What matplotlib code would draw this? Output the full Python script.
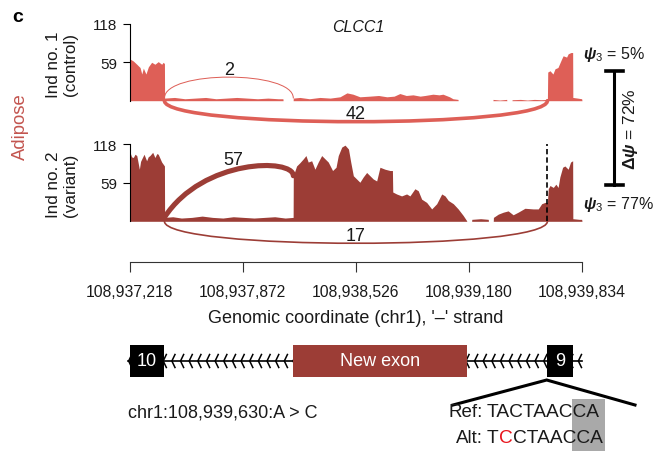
import numpy as np
import matplotlib
matplotlib.use("Agg")
import matplotlib.pyplot as plt
from matplotlib.path import Path
from matplotlib.patches import PathPatch, Rectangle
from matplotlib.lines import Line2D
from matplotlib.ticker import FuncFormatter

plt.rcParams['font.family'] = ['Liberation Sans', 'DejaVu Sans']
plt.rcParams['mathtext.fontset'] = 'custom'
plt.rcParams['mathtext.rm'] = 'Liberation Sans'
plt.rcParams['mathtext.it'] = 'Liberation Sans:italic'
plt.rcParams['mathtext.bf'] = 'Liberation Sans:bold'
plt.rcParams['mathtext.bfit'] = 'Liberation Sans:bold:italic'

# ---- data -----------------------------------------------------------------
gene = 'CLCC1'
tissue = 'Adipose'
region_start = 108937218
region_end = 108939834
x_ticks = [108937218, 108937872, 108938526, 108939180, 108939834]
y_ticks = [59, 118]

# read depth, positions in bp from region_start
ctrl_pos = [0, 3, 22, 42, 61, 71, 80, 95, 109, 128, 147, 166, 186, 195, 202,
            203, 260, 320, 380, 440, 500, 560, 620, 680, 740, 800, 860, 887, 888,
            946, 947, 985, 1040, 1101, 1160, 1217, 1257, 1292, 1332, 1390, 1440,
            1488, 1530, 1563, 1600, 1639, 1680, 1708, 1754, 1790, 1812, 1850, 1870,
            1899, 1900, 2101, 2102, 2140, 2180, 2182, 2211, 2212, 2260, 2300, 2340,
            2380, 2416, 2418, 2431, 2448, 2460, 2477, 2498, 2507, 2527, 2536, 2552,
            2562, 2563, 2590, 2614, 2616]
ctrl_depth = [62, 64, 61, 56, 51, 41, 50, 41, 52, 59, 56, 60, 56, 59, 57,
              4, 5, 3, 4, 5, 3, 4, 5, 4, 3, 4, 3, 3, 0,
              0, 4, 5, 3, 5, 4, 6, 12, 10, 6, 7, 8,
              6, 7, 11, 8, 9, 7, 8, 10, 9, 10, 6, 3,
              2, 0, 0, 2, 1, 2, 0, 0, 1.5, 2, 1, 2,
              1.5, 2, 44, 46, 41, 49, 51, 64, 69, 67, 72, 74,
              74, 5, 4, 3, 0]

var_pos = [0, 3, 12, 22, 32, 42, 57, 64, 71, 84, 99, 108, 118, 134, 147, 158, 166,
           186, 202, 203, 250, 300, 360, 420, 480, 540, 600, 660, 720, 780, 840,
           900, 946, 947, 966, 985, 1005, 1020, 1033, 1053, 1072, 1091, 1111, 1130,
           1149, 1174, 1194, 1207, 1227, 1246, 1266, 1279, 1294, 1313, 1332, 1351,
           1371, 1390, 1409, 1429, 1448, 1477, 1506, 1520, 1522, 1544, 1573, 1602,
           1621, 1650, 1669, 1689, 1718, 1747, 1776, 1805, 1824, 1843, 1872, 1900,
           1929, 1949, 1950, 1978, 1979, 2030, 2074, 2075, 2103, 2104, 2132, 2161,
           2189, 2218, 2247, 2286, 2334, 2363, 2383, 2402, 2416, 2421, 2431, 2450,
           2465, 2478, 2488, 2504, 2517, 2536, 2550, 2562, 2563, 2600, 2614, 2616]
var_depth = [104, 106, 99, 98, 103, 101, 80, 92, 96, 103, 93, 99, 101, 106, 98, 104, 103,
             91, 85, 6, 7, 5, 6, 8, 6, 5, 7, 6, 5, 6, 7,
             5, 6, 70, 85, 90, 96, 101, 91, 93, 80, 91, 101, 96,
             91, 78, 83, 101, 114, 117, 111, 91, 70, 65, 60, 68,
             75, 70, 65, 62, 83, 80, 78, 78, 45, 42, 39, 42,
             39, 50, 47, 34, 29, 19, 27, 42, 39, 32, 27, 19,
             9, 1, 0, 0, 3, 4, 3, 0, 0, 6, 11, 14,
             16, 10, 14, 20, 19, 19, 27, 29, 29, 50, 55, 52,
             57, 52, 68, 83, 85, 80, 91, 93, 4, 3, 3, 0]

# splice junctions (donor, acceptor) and supporting reads
junc_start = [108937420, 108937420]
junc_end = [108938165, 108939634]
ctrl_reads = [2, 42]
var_reads = [57, 17]

exon_names = ['10', 'New exon', '9']
exon_start = [108937218, 108938165, 108939634]
exon_end = [108937420, 108939169, 108939781]

variant_pos = 108939630
variant_label = 'chr1:108,939,630:A > C'
ref_seq = 'TACTAACCA'
alt_seq = 'TCCTAACCA'
psi_ctrl = 5
psi_var = 77

# ---- style ----------------------------------------------------------------
ctrl_color = '#DE5F57'
var_color = '#9C3D36'
tissue_color = '#C3554F'
ink = '#1a1a1a'

W, H = 654, 452
fig = plt.figure(figsize=(W / 100, H / 100), dpi=100)

X0, X1 = 129.5, 582.0          # data area, pixels
PPU = 0.651                    # pixels per read


def rect(x0, y0, x1, y1):
    return [x0 / W, 1 - y1 / H, (x1 - x0) / W, (y1 - y0) / H]


def ftext(x, y, s, **kw):
    kw.setdefault('color', ink)
    return fig.text(x / W, 1 - y / H, s, **kw)


def px2bp(x):
    return region_start + (x - X0) * (region_end - region_start) / (X1 - X0)


def track(base_px, bottom_px):
    hi = 125
    lo = -(bottom_px - base_px) / PPU
    ax = fig.add_axes(rect(X0, base_px - hi * PPU, X1, bottom_px))
    ax.set_xlim(region_start, region_end)
    ax.set_ylim(lo, hi)
    ax.patch.set_alpha(0)
    for s in ('top', 'right'):
        ax.spines[s].set_visible(False)
    ax.spines['left'].set_bounds(0, 118)
    ax.spines['left'].set_linewidth(0.8)
    ax.set_yticks(y_ticks)
    ax.tick_params(axis='y', length=5, width=0.8, pad=4, labelsize=11,
                   labelcolor=ink)
    return ax


def draw_track(ax, pos, depth, reads, color, arc_h, arc_lean):
    x = region_start + np.asarray(pos)
    d = np.asarray(depth, dtype=float)
    ax.fill_between(x, 0, d, color=color, lw=0)
    for s, e, n, h, f in zip(junc_start, junc_end, reads, arc_h, arc_lean):
        if h > 0:
            y0 = np.interp(s + 1, x, d)
            y1 = np.interp(e, x, d)
        else:
            y0 = y1 = 0
        c1 = s + f * (e - s)
        verts = [(s, y0), (c1, h), (e, h), (e, y1)]
        path = Path(verts, [Path.MOVETO, Path.CURVE4, Path.CURVE4, Path.CURVE4])
        lw = 0.7 + 3.0 * (n / 57) ** 1.5
        ax.add_patch(PathPatch(path, fc='none', ec=color, lw=lw,
                               capstyle='round', clip_on=False))
        xm = 0.125 * s + 0.375 * c1 + 0.375 * e + 0.125 * e
        ym = 0.125 * y0 + 0.75 * h + 0.125 * y1
        ax.text((s + e) / 2 if f == 0 else xm - 0.08 * (e - s), ym + 12, str(n),
                ha='center', va='center', fontsize=13, color=ink)


# control track
ax_c = track(101.7, 127.7)
ax_c.spines['bottom'].set_visible(False)
ax_c.set_xticks([])
draw_track(ax_c, ctrl_pos, ctrl_depth, ctrl_reads, ctrl_color, [47, -43], [0, 0])

# variant track, carries the genomic axis
ax_v = track(222.3, 262.5)
draw_track(ax_v, var_pos, var_depth, var_reads, var_color, [97, -45], [0.3, 0])
ax_v.plot([variant_pos, variant_pos], [0, 118], color='k', lw=1.2,
          ls=(0, (3.2, 1.8)), zorder=3)
ax_v.spines['bottom'].set_linewidth(0.8)
ax_v.spines['bottom'].set_color('#333333')
ax_v.set_xticks(x_ticks)
ax_v.xaxis.set_major_formatter(FuncFormatter(lambda v, p: f'{int(round(v)):,}'))
ax_v.tick_params(axis='x', length=7.5, width=0.8, pad=8.5, labelsize=11.3,
                 labelcolor=ink, color='#333333')
ax_v.set_xlabel("Genomic coordinate (chr1), '\u2013' strand", fontsize=13,
                color=ink, labelpad=7.5)

# panel labels
ftext(18, 17, 'c', fontsize=14, fontweight='bold', ha='center', va='center',
      color='k')
ftext(358, 27, gene, fontsize=11.5, style='italic', ha='center', va='center')
ftext(20, 127, tissue, fontsize=13.3, rotation=90, ha='center', va='center',
      color=tissue_color)
ftext(62, 65, 'Ind no. 1\n(control)', fontsize=12.3, rotation=90,
      ha='center', va='center', linespacing=1.12)
ftext(62, 185, 'Ind no. 2\n(variant)', fontsize=12.3, rotation=90,
      ha='center', va='center', linespacing=1.12)

# psi annotations
ftext(583, 55, r'$\boldsymbol{\psi}_{3}$ = %d%%' % psi_ctrl, fontsize=11.5,
      ha='left', va='center')
ftext(583, 205, r'$\boldsymbol{\psi}_{3}$ = %d%%' % psi_var, fontsize=11.5,
      ha='left', va='center')
ftext(631, 129, r'$\boldsymbol{\Delta\psi}$ = %d%%' % (psi_var - psi_ctrl),
      fontsize=12.5, rotation=90, ha='center', va='center')
fig.add_artist(Line2D([614 / W] * 2, [1 - 72 / H, 1 - 186 / H], color='k', lw=2.2))
for yy in (72, 186):
    fig.add_artist(Line2D([605.5 / W, 622.5 / W], [1 - yy / H] * 2, color='k',
                          lw=2.6))

# gene model
ax_g = fig.add_axes(rect(X0, 335, X1, 452))
ax_g.set_xlim(region_start, region_end)
ax_g.set_ylim(117, 0)
ax_g.axis('off')
yc = 27
ax_g.plot([region_start - 10, region_end], [yc, yc], color='k', lw=1.2,
          clip_on=False)
for xc in np.arange(region_start - 5, region_end - 10, 50):
    ax_g.plot([xc + 18, xc, xc + 18], [yc - 6.5, yc, yc + 6.5], color='k',
              lw=1.1, clip_on=False)
for name, s, e in zip(exon_names, exon_start, exon_end):
    fc = var_color if name == 'New exon' else 'k'
    ax_g.add_patch(Rectangle((s, yc - 16), e - s, 32, fc=fc, ec='none',
                             zorder=3))
    ax_g.text((s + e) / 2, yc, name, color='white', fontsize=13,
              ha='center', va='center', zorder=4)
ax_g.plot([px2bp(453), variant_pos, px2bp(635)], [71, 46, 71], color='k',
          lw=2.2, clip_on=False, solid_joinstyle='miter')

ftext(128, 413, variant_label, fontsize=13, ha='left', va='center')

# reference / alternative sequence, acceptor bases shaded
seq_x, seq_fs = 487, 13.8
renderer = fig.canvas.get_renderer()


def ink_width(s):
    t = ftext(0, 0, s, fontsize=seq_fs, alpha=0)
    w = t.get_window_extent(renderer).width
    t.remove()
    return w


ftext(483, 413, 'Ref:', fontsize=13.5, ha='right', va='center')
ftext(483, 439, 'Alt:', fontsize=13.5, ha='right', va='center')
ftext(seq_x, 413, ref_seq, fontsize=seq_fs, ha='left', va='center')
w_ref = ink_width(ref_seq)
w_alt = ink_width(alt_seq)
w_tail = ink_width(ref_seq[-2:])
shade_x0 = seq_x + min(w_ref, w_alt) - w_tail - 1.5
shade_x1 = seq_x + max(w_ref, w_alt) + 2.5
fig.add_artist(Rectangle((shade_x0 / W, 0), (shade_x1 - shade_x0) / W,
                         1 - 400 / H, transform=fig.transFigure,
                         fc='#A9A9A9', ec='none', zorder=0))

# alt allele, substituted base in red
pieces = [(alt_seq[:1], ink), (alt_seq[1], '#E8141C'), (alt_seq[2:], ink)]
for i, (s, col) in enumerate(pieces):
    rest = ''.join(p for p, _ in pieces[i:])
    xs = seq_x + w_alt - ink_width(rest)
    ftext(xs, 439, s, fontsize=seq_fs, ha='left', va='center', color=col)

fig.savefig('out.png', dpi=100)
